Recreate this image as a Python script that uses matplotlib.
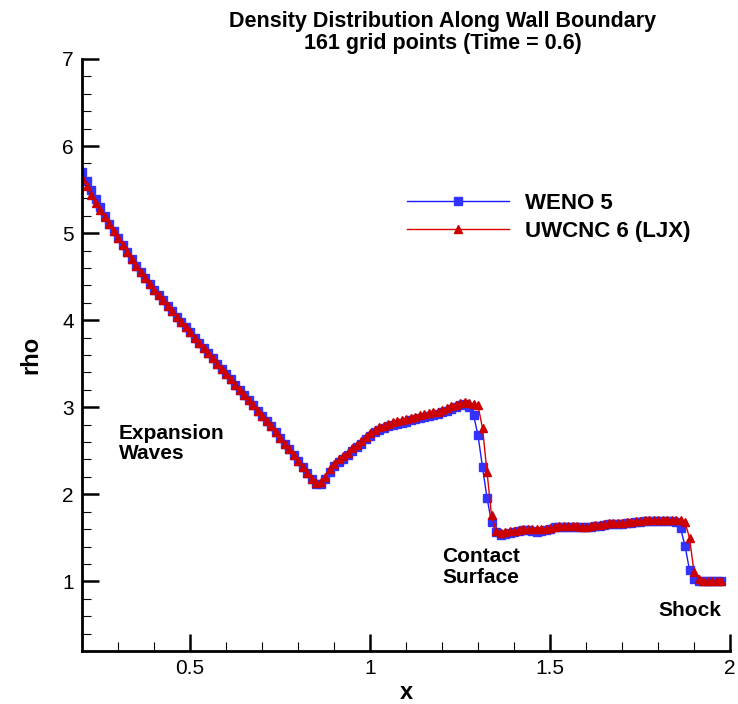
import numpy as np
import matplotlib
matplotlib.use("Agg")
import matplotlib.pyplot as plt
from matplotlib.ticker import MultipleLocator, FuncFormatter

plt.rcParams["font.family"] = ["Liberation Sans", "DejaVu Sans"]

# grid points along the wall (dx = 2/160), visible part x = 0.2 .. 1.975
x = np.arange(16, 159) * 0.0125

weno5 = [
    5.70, 5.60, 5.49, 5.39, 5.30, 5.20, 5.11, 5.02, 4.94, 4.86,
    4.78, 4.70, 4.62, 4.55, 4.48, 4.41, 4.35, 4.29, 4.23, 4.16,
    4.10, 4.04, 3.98, 3.92, 3.86, 3.80, 3.74, 3.68, 3.62, 3.56,
    3.50, 3.44, 3.38, 3.32, 3.26, 3.20, 3.14, 3.08, 3.02, 2.96,
    2.90, 2.84, 2.78, 2.71, 2.65, 2.58, 2.52, 2.45, 2.38, 2.31,
    2.24, 2.18, 2.12, 2.12, 2.17, 2.26, 2.32, 2.37, 2.41, 2.45,
    2.50, 2.54, 2.58, 2.63, 2.67, 2.71, 2.74, 2.76, 2.78, 2.80,
    2.81, 2.82, 2.83, 2.85, 2.86, 2.88, 2.89, 2.90, 2.91, 2.92,
    2.94, 2.96, 2.98, 3.00, 3.03, 3.04, 3.00, 2.91, 2.68, 2.31,
    1.96, 1.68, 1.57, 1.53, 1.54, 1.56, 1.57, 1.58, 1.59, 1.59,
    1.58, 1.57, 1.58, 1.59, 1.60, 1.62, 1.63, 1.63, 1.63, 1.63,
    1.63, 1.62, 1.62, 1.63, 1.64, 1.64, 1.65, 1.66, 1.66, 1.66,
    1.66, 1.67, 1.67, 1.68, 1.68, 1.69, 1.69, 1.69, 1.69, 1.69,
    1.69, 1.69, 1.68, 1.61, 1.41, 1.13, 1.03, 1.00, 1.00, 1.00,
    1.00, 1.00, 1.00,
]

uwcnc6 = [
    5.63, 5.54, 5.44, 5.35, 5.27, 5.18, 5.10, 5.02, 4.94, 4.86,
    4.78, 4.70, 4.62, 4.55, 4.48, 4.41, 4.35, 4.29, 4.23, 4.16,
    4.10, 4.04, 3.98, 3.92, 3.86, 3.80, 3.74, 3.68, 3.62, 3.56,
    3.50, 3.44, 3.38, 3.32, 3.26, 3.20, 3.14, 3.08, 3.02, 2.96,
    2.90, 2.84, 2.78, 2.71, 2.65, 2.58, 2.52, 2.45, 2.38, 2.31,
    2.24, 2.18, 2.13, 2.14, 2.20, 2.29, 2.35, 2.40, 2.44, 2.48,
    2.53, 2.57, 2.61, 2.66, 2.70, 2.74, 2.77, 2.79, 2.81, 2.83,
    2.84, 2.85, 2.86, 2.88, 2.89, 2.91, 2.92, 2.93, 2.94, 2.95,
    2.97, 2.99, 3.01, 3.03, 3.05, 3.06, 3.05, 3.04, 3.02, 2.76,
    2.26, 1.76, 1.58, 1.56, 1.57, 1.58, 1.58, 1.59, 1.60, 1.60,
    1.60, 1.60, 1.60, 1.60, 1.61, 1.63, 1.64, 1.64, 1.64, 1.64,
    1.64, 1.63, 1.63, 1.64, 1.65, 1.65, 1.66, 1.67, 1.67, 1.67,
    1.67, 1.68, 1.68, 1.69, 1.69, 1.70, 1.70, 1.70, 1.70, 1.70,
    1.70, 1.70, 1.70, 1.70, 1.68, 1.50, 1.11, 1.03, 1.00, 1.00,
    1.00, 1.00, 1.00,
]

fig = plt.figure(figsize=(7.38, 7.04), dpi=100)
ax = fig.add_axes([82 / 738, 53 / 704, 648 / 738, 592 / 704])

ax.plot(x, weno5, color="#1a1aff", lw=1.0, marker="s", ms=5.2,
        mec="#3333ff", mfc="#3333ff", label="WENO 5")
ax.plot(x, uwcnc6, color="#dd0000", lw=1.0, marker="^", ms=5.2,
        mec="#cc0000", mfc="#cc0000", label="UWCNC 6 (LJX)")

ax.set_xlim(0.2, 2.0)
ax.set_ylim(0.2, 7.0)
ax.xaxis.set_major_locator(MultipleLocator(0.5))
ax.xaxis.set_minor_locator(MultipleLocator(0.1))
ax.yaxis.set_major_locator(MultipleLocator(1))
ax.yaxis.set_minor_locator(MultipleLocator(0.2))
ax.xaxis.set_major_formatter(FuncFormatter(lambda v, p: f"{v:g}"))
ax.tick_params(which="major", direction="in", length=12, width=1.8,
               labelsize=15, pad=6)
ax.tick_params(which="minor", direction="in", length=6.5, width=0.8)
for side in ("top", "right"):
    ax.spines[side].set_visible(False)
for side in ("left", "bottom"):
    ax.spines[side].set_linewidth(2.0)

ax.set_xlabel("x", fontsize=17, fontweight="bold", labelpad=2)
ax.set_ylabel("rho", fontsize=17, fontweight="bold", labelpad=14)

fig.text(0.6, 1 - 21 / 704, "Density Distribution Along Wall Boundary",
         ha="center", va="center", fontsize=15.5, fontweight="bold")
fig.text(0.6, 1 - 44 / 704, "161 grid points (Time = 0.6)",
         ha="center", va="center", fontsize=15.5, fontweight="bold")

note = dict(fontsize=15, fontweight="bold", ha="left", va="top",
            linespacing=1.1)
ax.text(0.303, 2.81, "Expansion\nWaves", **note)
ax.text(1.200, 1.39, "Contact\nSurface", **note)
ax.text(1.80, 0.77, "Shock", **note)

ax.legend(loc="upper left", bbox_to_anchor=(387 / 738, 1 - 173 / 704),
          bbox_transform=fig.transFigure, frameon=False, numpoints=1,
          handlelength=4.6, handletextpad=0.7, labelspacing=0.3,
          prop={"size": 16, "weight": "bold"})

fig.savefig("out.png", dpi=100)
plt.close(fig)
